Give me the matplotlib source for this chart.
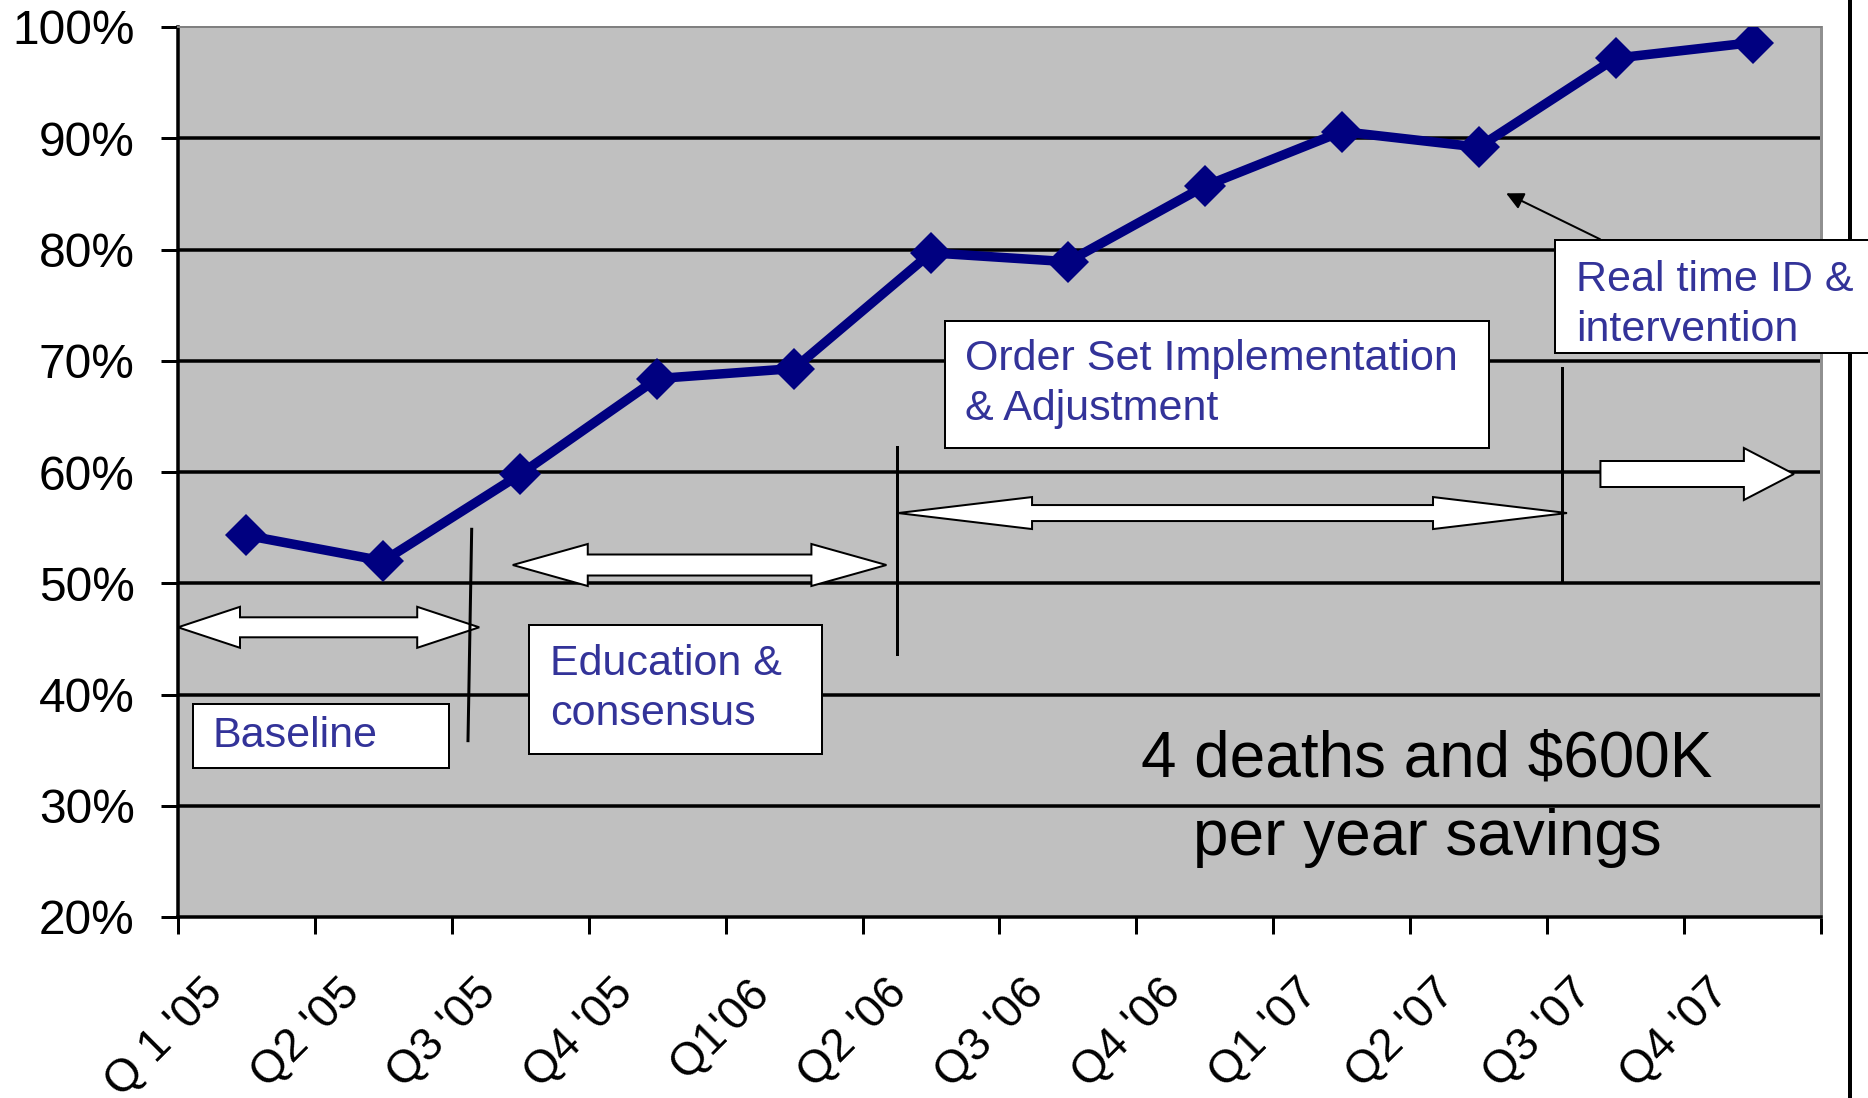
import numpy as np
import matplotlib
matplotlib.use('Agg')
import matplotlib.pyplot as plt
from matplotlib.patches import Polygon, Rectangle
from matplotlib.lines import Line2D
from matplotlib.transforms import ScaledTranslation

plt.rcParams['font.family'] = ['Liberation Sans', 'DejaVu Sans']

# data (percent)
quarters = ["Q 1 '05", "Q2 '05", "Q3 '05", "Q4 '05", "Q1'06", "Q2 '06",
            "Q3 '06", "Q4 '06", "Q1 '07", "Q2 '07", "Q3 '07", "Q4 '07"]
compliance = [54.3, 52.0, 59.8, 68.4, 69.3, 79.7, 78.9, 85.7, 90.6, 89.2, 97.2, 98.6]
y_ticks = [20, 30, 40, 50, 60, 70, 80, 90, 100]
y_labels = [f'{v}%' for v in y_ticks]

NAVY = '#000080'
TXT = '#333399'
PX = 0.72  # one pixel in points at dpi 100

fig = plt.figure(figsize=(18.68, 10.98), dpi=100)
ax = fig.add_axes([178/1868, 181/1098, 1643/1868, 890/1098])
ax.set_facecolor('#c0c0c0')

x = np.arange(len(quarters))
ax.set_xlim(-0.5, len(quarters) - 0.5)
ax.set_ylim(20, 100)

# ticks: marks at category edges, labels at centres
ax.set_xticks(np.arange(len(quarters) + 1) - 0.5)
ax.set_xticklabels([])
ax.set_xticks(x, minor=True)
ax.set_xticklabels(quarters, minor=True, rotation=45, ha='right', va='top', fontsize=33)
ax.tick_params(axis='x', which='major', length=17*PX, width=3*PX, direction='out')
ax.tick_params(axis='x', which='minor', length=0, pad=39)
for lab in ax.get_xticklabels(minor=True):
    lab.set_transform(lab.get_transform() + ScaledTranslation(-0.15, 0, fig.dpi_scale_trans))

ax.set_yticks(y_ticks)
ax.set_yticklabels(y_labels, fontsize=34.5)
ax.tick_params(axis='y', length=17*PX, width=3*PX, pad=19)

for v in y_ticks[1:-1]:
    ax.axhline(v, color='black', lw=3.5*PX, zorder=1)

ax.spines['left'].set_linewidth(3.5*PX)
ax.spines['bottom'].set_linewidth(3.5*PX)
ax.spines['top'].set_color('#808080')
ax.spines['top'].set_linewidth(2*PX)
ax.spines['right'].set_color('#909090')
ax.spines['right'].set_linewidth(3*PX)

ax.plot(x, compliance, color=NAVY, lw=9.5*PX, marker='D', markersize=21.5,
        markeredgewidth=0, zorder=6)


def block_arrow(x0, x1, y, head_len, head_h, shaft_h, both=True):
    # head sizes are in pixels
    (xa, yc), (xb, _) = ax.transData.transform([(x0, y), (x1, y)])
    hh, sh = head_h / 2, shaft_h / 2
    if both:
        pts = [(xa, yc), (xa + head_len, yc + hh), (xa + head_len, yc + sh),
               (xb - head_len, yc + sh), (xb - head_len, yc + hh), (xb, yc),
               (xb - head_len, yc - hh), (xb - head_len, yc - sh),
               (xa + head_len, yc - sh), (xa + head_len, yc - hh)]
    else:
        pts = [(xa, yc + sh), (xb - head_len, yc + sh), (xb - head_len, yc + hh),
               (xb, yc), (xb - head_len, yc - hh), (xb - head_len, yc - sh), (xa, yc - sh)]
    pts = ax.transData.inverted().transform(pts)
    ax.add_patch(Polygon(pts, closed=True, fc='white', ec='black', lw=2*PX, zorder=4))


def text_box(x0, x1, y0, y1, tx, ty, label):
    ax.add_patch(Rectangle((x0, y0), x1 - x0, y1 - y0, fc='white', ec='black',
                           lw=2*PX, zorder=4, clip_on=False))
    ax.text(tx, ty, label, color=TXT, fontsize=31, ha='left', va='center',
            linespacing=1.33, zorder=5, clip_on=False)


# phase arrows
block_arrow(-0.50, 1.70, 46.04, 62, 41, 20)
block_arrow(1.945, 4.674, 51.64, 75, 42, 21)
block_arrow(4.759, 9.645, 56.31, 134, 32, 16)
block_arrow(9.889, 11.302, 59.82, 50, 52, 26, both=False)

# phase separators
ax.plot([1.645, 1.618], [54.85, 35.85], color='black', lw=3*PX, zorder=5)
ax.plot([4.75, 4.75], [62.27, 43.64], color='black', lw=3*PX, zorder=5)
ax.plot([9.608, 9.608], [69.32, 50.07], color='black', lw=3*PX, zorder=5)

# phase labels
text_box(-0.393, 1.48, 33.39, 39.15, -0.25, 36.3, 'Baseline')
text_box(2.0625, 4.201, 34.63, 46.25, 2.215, 40.5, 'Education &\nconsensus')
text_box(5.103, 9.077, 62.13, 73.6, 5.245, 67.9, 'Order Set Implementation\n& Adjustment')
text_box(9.558, 12.2, 70.72, 80.85, 9.71, 75.0, 'Real time ID &\nintervention')

ax.annotate('', xy=(9.2005, 85.05), xytext=(9.887, 80.92),
            arrowprops=dict(arrowstyle='-|>', color='black', lw=2*PX,
                            mutation_scale=26, shrinkA=0, shrinkB=0), zorder=5)

ax.text(8.623, 30.6, '4 deaths and $600K\nper year savings', fontsize=46,
        ha='center', va='center', multialignment='center', linespacing=1.39, zorder=5)

# slide frame line on the right
fig.add_artist(Line2D([1850/1868, 1850/1868], [0, 1], color='black', lw=4*PX, zorder=-1))

fig.savefig('out.png', dpi=100)
